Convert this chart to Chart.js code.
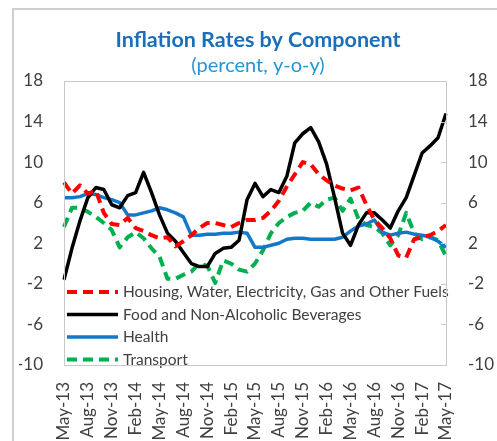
<!DOCTYPE html>
<html>
<head>
<meta charset="utf-8">
<script src="https://cdn.jsdelivr.net/npm/chart.js@4.4.0/dist/chart.umd.min.js"></script>
<style>
  html, body { margin: 0; padding: 0; background: #ffffff; }
  #wrap { width: 497px; height: 441px; }
</style>
</head>
<body>
<div id="wrap"><canvas id="chart1" width="497" height="441"></canvas></div>
<script>
// Monthly data, May-13 .. May-17 (percent, y-o-y)
const months = [
  "May-13", "Jun-13", "Jul-13", "Aug-13", "Sep-13", "Oct-13", "Nov-13", "Dec-13",
  "Jan-14", "Feb-14", "Mar-14", "Apr-14", "May-14", "Jun-14", "Jul-14", "Aug-14",
  "Sep-14", "Oct-14", "Nov-14", "Dec-14", "Jan-15", "Feb-15", "Mar-15", "Apr-15",
  "May-15", "Jun-15", "Jul-15", "Aug-15", "Sep-15", "Oct-15", "Nov-15", "Dec-15",
  "Jan-16", "Feb-16", "Mar-16", "Apr-16", "May-16", "Jun-16", "Jul-16", "Aug-16",
  "Sep-16", "Oct-16", "Nov-16", "Dec-16", "Jan-17", "Feb-17", "Mar-17", "Apr-17",
  "May-17"
];
const housing = [
  8.0, 6.9, 7.7, 6.9, 7.2, 5.0, 3.9, 3.8, 4.5, 3.5, 3.2, 2.8, 2.5, 2.6, 1.7, 2.2,
  2.8, 3.5, 4.0, 4.0, 3.8, 3.6, 4.0, 4.3, 4.3, 4.5, 5.2, 6.2, 7.6, 8.8, 10.0, 9.8,
  8.8, 8.2, 7.7, 7.4, 7.2, 7.5, 5.8, 4.3, 3.5, 2.5, 0.8, 0.6, 2.4, 2.6, 2.8, 3.2,
  3.8
];
const food = [
  -1.6, 1.5, 4.2, 6.5, 7.5, 7.3, 5.8, 5.5, 6.7, 7.0, 9.0, 7.0, 4.8, 3.0, 2.2, 1.1,
  0.0, -0.3, -0.3, 1.0, 1.5, 1.6, 2.3, 6.3, 7.9, 6.6, 7.3, 7.0, 8.6, 11.9, 12.8, 13.4,
  12.0, 9.8, 6.5, 3.0, 1.8, 3.8, 5.0, 5.0, 4.3, 3.5, 5.2, 6.5, 8.7, 10.9, 11.6, 12.4,
  14.8
];
const health = [
  6.5, 6.5, 6.6, 6.9, 6.8, 6.5, 6.3, 6.0, 4.8, 4.8, 5.0, 5.2, 5.5, 5.3, 5.0, 4.6,
  2.8, 2.8, 2.9, 2.9, 3.0, 3.0, 3.1, 3.0, 1.6, 1.6, 1.8, 2.0, 2.4, 2.5, 2.5, 2.4,
  2.4, 2.4, 2.4, 2.6, 3.2, 3.7, 3.9, 4.3, 3.1, 2.8, 3.0, 3.1, 2.9, 2.8, 2.6, 2.2,
  1.6
];
const transport = [
  3.6, 5.5, 5.5, 5.1, 4.6, 4.0, 3.3, 1.6, 2.6, 3.1, 2.5, 1.5, 0.7, -1.5, -1.5, -1.1,
  -0.8, 0.0, -0.2, -1.9, 0.3, 0.0, -0.6, -0.8, 0.0, 1.3, 3.0, 4.0, 4.6, 5.0, 5.2, 6.0,
  5.6, 6.3, 6.5, 5.2, 6.4, 4.4, 3.8, 3.6, 3.0, 1.8, 2.8, 5.0, 3.0, 2.4, 2.6, 2.3,
  0.7
];
const seriesNames = [
  "Housing, Water, Electricity, Gas and Other Fuels",
  "Food and Non-Alcoholic Beverages",
  "Health",
  "Transport"
];
const yTicks = [18, 14, 10, 6, 2, -2, -6, -10];

const fontFamily = "Lato, 'Open Sans', sans-serif";
const textColor = '#404040';

// frame, plot box and right-side tick marks
const framePlugin = {
  id: 'frame',
  beforeDraw(chart) {
    const ctx = chart.ctx;
    ctx.save();
    ctx.fillStyle = '#ffffff';
    ctx.fillRect(0, 0, chart.width, chart.height);
    ctx.strokeStyle = '#cfcfcf';
    ctx.lineWidth = 2;
    ctx.beginPath();
    ctx.moveTo(13, chart.height);
    ctx.lineTo(13, 9);
    ctx.lineTo(chart.width, 9);
    ctx.stroke();
    ctx.restore();
  },
  afterDraw(chart) {
    const ctx = chart.ctx;
    const a = chart.chartArea;
    const y2 = chart.scales.y2;
    ctx.save();
    ctx.strokeStyle = '#c8c8c8';
    ctx.lineWidth = 1;
    ctx.strokeRect(a.left + 0.5, a.top + 0.5, a.right - a.left, a.bottom - a.top);
    ctx.beginPath();
    yTicks.forEach(v => {
      const py = Math.round(y2.getPixelForValue(v)) + 0.5;
      ctx.moveTo(a.right - 5, py);
      ctx.lineTo(a.right, py);
    });
    ctx.stroke();
    ctx.restore();
  }
};

// legend drawn inside the plot, bottom left
const innerLegend = {
  id: 'innerLegend',
  afterDatasetsDraw(chart) {
    const ctx = chart.ctx;
    const x0 = 67, x1 = 118, tx = 123;
    const rows = [292, 314.5, 337, 359.5];
    ctx.save();
    ctx.font = '15.5px ' + fontFamily;
    ctx.textBaseline = 'middle';
    ctx.textAlign = 'left';
    chart.data.datasets.forEach((ds, i) => {
      ctx.strokeStyle = ds.borderColor;
      ctx.lineWidth = ds.borderWidth;
      ctx.setLineDash(ds.borderDash || []);
      ctx.beginPath();
      ctx.moveTo(x0, rows[i]);
      ctx.lineTo(x1, rows[i]);
      ctx.stroke();
      ctx.setLineDash([]);
      ctx.fillStyle = textColor;
      ctx.fillText(ds.label, tx, rows[i]);
    });
    ctx.restore();
  }
};

const ctx = document.getElementById('chart1').getContext('2d');
const myChart = new Chart(ctx, {
  type: 'line',
  data: {
    labels: months,
    datasets: [
      {
        label: seriesNames[0],
        data: housing,
        borderColor: '#ff0000',
        borderWidth: 4,
        borderDash: [10, 6]
      },
      {
        label: seriesNames[1],
        data: food,
        borderColor: '#000000',
        borderWidth: 3.5
      },
      {
        label: seriesNames[2],
        data: health,
        borderColor: '#1577c8',
        borderWidth: 3.5
      },
      {
        label: seriesNames[3],
        data: transport,
        borderColor: '#00b050',
        borderWidth: 4,
        borderDash: [10, 6]
      }
    ]
  },
  options: {
    responsive: false,
    animation: false,
    devicePixelRatio: 1,
    layout: { padding: { top: 0, left: 19, right: 0, bottom: 0 } },
    elements: {
      point: { radius: 0 },
      line: { tension: 0, borderJoinStyle: 'round', fill: false }
    },
    plugins: {
      legend: { display: false },
      tooltip: { enabled: false },
      title: {
        display: true,
        text: 'Inflation Rates by Component',
        color: '#1a6fb8',
        font: { family: fontFamily, size: 21.5, weight: 'bold', lineHeight: 1.2 },
        padding: { top: 27, bottom: 0 }
      },
      subtitle: {
        display: true,
        text: '(percent, y-o-y)',
        color: '#2596d4',
        font: { family: fontFamily, size: 20, lineHeight: 1.2 },
        padding: { top: 1.2, bottom: 3 }
      }
    },
    scales: {
      x: {
        grid: { display: false, drawTicks: false },
        border: { display: false },
        ticks: {
          autoSkip: false,
          minRotation: 90,
          maxRotation: 90,
          padding: 17,
          color: textColor,
          font: { family: fontFamily, size: 17 },
          callback: function (val, index) {
            return index % 3 === 0 ? this.getLabelForValue(val) : '';
          }
        },
        afterFit(scale) { scale.height = 76; }
      },
      y: {
        position: 'left',
        min: -10,
        max: 18,
        grid: { display: false, drawTicks: false },
        border: { display: false },
        ticks: {
          stepSize: 4,
          padding: 21,
          color: textColor,
          font: { family: fontFamily, size: 17 }
        },
        afterFit(scale) { scale.width = 45; }
      },
      y2: {
        position: 'right',
        min: -10,
        max: 18,
        grid: { display: false, drawTicks: false },
        border: { display: false },
        ticks: {
          stepSize: 4,
          padding: 22,
          color: textColor,
          font: { family: fontFamily, size: 17 }
        },
        afterFit(scale) { scale.width = 51; }
      }
    }
  },
  plugins: [framePlugin, innerLegend]
});
</script>
</body>
</html>
